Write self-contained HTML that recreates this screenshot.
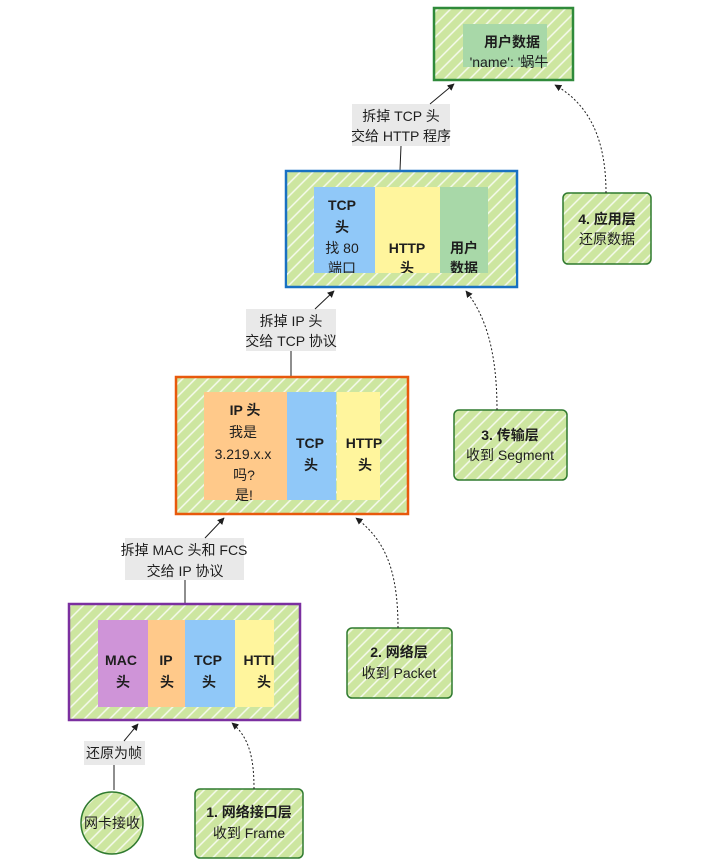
<!DOCTYPE html>
<html><head><meta charset="utf-8"><style>
html,body{margin:0;padding:0;background:#fff;}
svg{display:block;}
text{font-family:"Liberation Sans","Noto Sans CJK SC",sans-serif;font-size:14px;fill:#1e1e1e;text-anchor:middle;}
.b{font-weight:bold;}
</style></head><body>
<svg width="720" height="868" viewBox="0 0 720 868" xmlns="http://www.w3.org/2000/svg">
<defs>
<pattern id="h" width="9" height="9" patternUnits="userSpaceOnUse" patternTransform="rotate(45)">
<rect width="9" height="9" fill="#cde6a0"/>
<line x1="1" y1="0" x2="1" y2="9" stroke="#f6faee" stroke-width="1.5"/>
</pattern>
<marker id="a" viewBox="0 0 10 10" refX="9" refY="5" markerWidth="7" markerHeight="7" orient="auto"><path d="M0,0 L10,5 L0,10 z" fill="#1e1e1e"/></marker>
</defs>

<rect x="434" y="8" width="139" height="72" fill="url(#h)" stroke="#2f8a3a" stroke-width="2.5"/>
<rect x="463" y="24" width="84" height="43" fill="#a8d8a8"/>
<text x="512" y="47" class="b">用户数据</text>
<text x="509" y="67">'name': '蜗牛</text>

<rect x="352" y="104" width="98" height="42" fill="#e9e9e9"/>
<text x="401" y="121">拆掉 TCP 头</text>
<text x="401" y="141">交给 HTTP 程序</text>
<line x1="430" y1="104" x2="454" y2="84" stroke="#1e1e1e" marker-end="url(#a)"/>
<line x1="401" y1="146" x2="400" y2="170" stroke="#1e1e1e"/>

<rect x="563" y="193" width="88" height="71" rx="5" fill="url(#h)" stroke="#2f7a2f" stroke-width="1.5"/>
<text x="607" y="224" class="b">4. 应用层</text>
<text x="607" y="244">还原数据</text>
<path d="M606,193 C606,140 590,105 555,85" fill="none" stroke="#1e1e1e" stroke-dasharray="2,2" marker-end="url(#a)"/>

<rect x="286" y="171" width="231" height="116" fill="url(#h)" stroke="#1971c2" stroke-width="2.5"/>
<rect x="314" y="187" width="61" height="86" fill="#90c8f8"/>
<rect x="375" y="187" width="65" height="86" fill="#fff59d"/>
<rect x="440" y="187" width="48" height="86" fill="#a8d8a8"/>
<text x="342" y="210" class="b">TCP</text>
<text x="342" y="232" class="b">头</text>
<text x="342" y="253">找 80</text>
<text x="342" y="273">端口</text>
<text x="407" y="253" class="b">HTTP</text>
<text x="407" y="273" class="b">头</text>
<text x="464" y="253" class="b">用户</text>
<text x="464" y="273" class="b">数据</text>
<rect x="287" y="273" width="229" height="12" fill="url(#h)"/>

<rect x="246" y="309" width="90" height="42" fill="#e9e9e9"/>
<text x="291" y="326">拆掉 IP 头</text>
<text x="291" y="346">交给 TCP 协议</text>
<line x1="315" y1="309" x2="334" y2="291" stroke="#1e1e1e" marker-end="url(#a)"/>
<line x1="291" y1="351" x2="291" y2="377" stroke="#1e1e1e"/>

<rect x="454" y="410" width="113" height="70" rx="5" fill="url(#h)" stroke="#2f7a2f" stroke-width="1.5"/>
<text x="510" y="440" class="b">3. 传输层</text>
<text x="510" y="460">收到 Segment</text>
<path d="M497,410 C497,350 485,315 466,291" fill="none" stroke="#1e1e1e" stroke-dasharray="2,2" marker-end="url(#a)"/>

<rect x="176" y="377" width="232" height="137" fill="url(#h)" stroke="#e8590c" stroke-width="2.5"/>
<rect x="204" y="392" width="83" height="108" fill="#ffc98a"/>
<rect x="287" y="392" width="49" height="108" fill="#90c8f8"/>
<rect x="337" y="392" width="43" height="108" fill="#fff59d"/>
<text x="245" y="415" class="b">IP 头</text>
<text x="243" y="437">我是</text>
<text x="243" y="459">3.219.x.x</text>
<text x="244" y="480">吗?</text>
<text x="244" y="500">是!</text>
<rect x="204" y="501" width="83" height="11" fill="url(#h)"/>
<text x="310" y="448" class="b">TCP</text>
<text x="311" y="470" class="b">头</text>
<text x="364" y="448" class="b">HTTP</text>
<text x="365" y="470" class="b">头</text>

<rect x="125" y="538" width="119" height="42" fill="#e9e9e9"/>
<text x="184" y="555">拆掉 MAC 头和 FCS</text>
<text x="185" y="576">交给 IP 协议</text>
<line x1="205" y1="538" x2="224" y2="518" stroke="#1e1e1e" marker-end="url(#a)"/>
<line x1="185" y1="580" x2="185" y2="604" stroke="#1e1e1e"/>

<rect x="347" y="628" width="105" height="70" rx="5" fill="url(#h)" stroke="#2f7a2f" stroke-width="1.5"/>
<text x="399" y="657" class="b">2. 网络层</text>
<text x="399" y="678">收到 Packet</text>
<path d="M398,628 C398,570 385,540 356,518" fill="none" stroke="#1e1e1e" stroke-dasharray="2,2" marker-end="url(#a)"/>

<rect x="69" y="604" width="231" height="116" fill="url(#h)" stroke="#7b2fa0" stroke-width="2.5"/>
<rect x="98" y="620" width="50" height="87" fill="#cf94d8"/>
<rect x="148" y="620" width="37" height="87" fill="#ffc98a"/>
<rect x="185" y="620" width="50" height="87" fill="#90c8f8"/>
<rect x="235" y="620" width="39" height="87" fill="#fff59d"/>
<text x="121" y="665" class="b">MAC</text>
<text x="123" y="687" class="b">头</text>
<text x="166" y="665" class="b">IP</text>
<text x="167" y="687" class="b">头</text>
<text x="208" y="665" class="b">TCP</text>
<text x="209" y="687" class="b">头</text>
<text x="259" y="665" class="b">HTTI</text>
<text x="264" y="687" class="b">头</text>

<rect x="84" y="741" width="61" height="24" fill="#e9e9e9"/>
<text x="114" y="758">还原为帧</text>
<line x1="124" y1="741" x2="138" y2="724" stroke="#1e1e1e" marker-end="url(#a)"/>
<line x1="114" y1="765" x2="114" y2="790" stroke="#1e1e1e"/>
<circle cx="112" cy="823" r="31" fill="url(#h)" stroke="#2f7a2f" stroke-width="1.5"/>
<text x="112" y="828">网卡接收</text>

<rect x="195" y="789" width="108" height="69" rx="5" fill="url(#h)" stroke="#2f7a2f" stroke-width="1.5"/>
<text x="249" y="817" class="b">1. 网络接口层</text>
<text x="249" y="838">收到 Frame</text>
<path d="M254,789 C254,760 250,738 232,723" fill="none" stroke="#1e1e1e" stroke-dasharray="2,2" marker-end="url(#a)"/>
</svg>
</body></html>
